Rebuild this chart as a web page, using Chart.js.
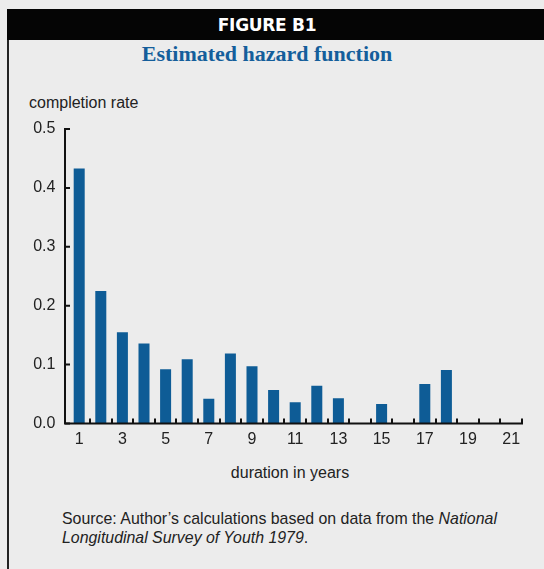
<!DOCTYPE html>
<html>
<head>
<meta charset="utf-8">
<script src="https://cdn.jsdelivr.net/npm/chart.js@4/dist/chart.umd.min.js"></script>
<style>
  html, body { margin: 0; padding: 0; background: #ececec; }
  body { width: 544px; height: 569px; position: relative; overflow: hidden; font-family: "Liberation Sans", Arial, sans-serif; color: #222; }
  #frame { position: absolute; left: 7px; top: 9px; width: 540px; height: 570px; border-left: 2px solid #222; }
  #band { position: absolute; left: 7px; top: 9px; width: 540px; height: 31px; background: #050505; color: #fff;
          font-family: "DejaVu Sans", sans-serif; font-weight: bold; font-size: 17px; line-height: 31px; letter-spacing: -0.3px; }
  #band span { position: absolute; left: 0; width: 520px; text-align: center; top: 1px; }
  #title { position: absolute; left: 7px; width: 520px; top: 41px; text-align: center;
           font-family: "Liberation Serif", "Times New Roman", serif; font-weight: bold; font-size: 22px; color: #145e9b; }
  #ylab { position: absolute; left: 29px; top: 94px; font-size: 16px; line-height: 18px; }
  #xlab { position: absolute; left: 190px; width: 200px; top: 464px; text-align: center; font-size: 16px; line-height: 18px; }
  #source { position: absolute; left: 62px; top: 510px; font-size: 15.9px; line-height: 18.7px; }
  canvas { position: absolute; left: 0; top: 0; }
</style>
</head>
<body>
<div id="frame"></div>
<div id="band"><span>FIGURE B1</span></div>
<div id="title">Estimated hazard function</div>
<div id="ylab">completion rate</div>
<div id="xlab">duration in years</div>
<div id="source">Source: Author’s calculations based on data from the <i>National</i><br><i>Longitudinal Survey of Youth 1979</i>.</div>
<canvas id="hazardChart" width="544" height="569"></canvas>
<script>
// 数据：持续年数与完成率
const durations = ['1', '2', '3', '4', '5', '6', '7', '8', '9', '10', '11',
                   '12', '13', '14', '15', '16', '17', '18', '19', '20', '21'];
const completionRate = [0.433, 0.225, 0.155, 0.136, 0.092, 0.109, 0.042, 0.119, 0.097, 0.057, 0.036,
                        0.064, 0.043, 0, 0.033, 0, 0.067, 0.091, 0, 0, 0];
const yTicks = [0, 0.1, 0.2, 0.3, 0.4, 0.5];

const BAR_COLOR = '#0e5c96';
const AXIS_GAP = 3.4;

// 向内的刻度线 + 坐标轴
const inwardAxes = {
    id: 'inwardAxes',
    afterDraw(chart) {
        const { ctx, chartArea, scales: { x, y } } = chart;
        const x0 = chartArea.left - AXIS_GAP;
        const y0 = y.getPixelForValue(0);
        ctx.save();
        ctx.strokeStyle = '#111';
        ctx.lineWidth = 2;
        ctx.beginPath();
        ctx.moveTo(x0, y.getPixelForValue(0.5) - 1);
        ctx.lineTo(x0, y0);
        ctx.lineTo(chartArea.right + 1, y0);
        ctx.stroke();

        ctx.lineWidth = 2;
        ctx.beginPath();
        yTicks.forEach(v => {
            const py = y.getPixelForValue(v);
            ctx.moveTo(x0, py);
            ctx.lineTo(x0 + 5, py);
        });
        const step = x.getPixelForValue(1) - x.getPixelForValue(0);
        for (let i = 0; i < durations.length; i++) {
            const px = Math.round(x.getPixelForValue(i) + step / 2);
            ctx.moveTo(px, y0);
            ctx.lineTo(px, y0 - 5);
        }
        ctx.stroke();
        ctx.restore();
    }
};

const chart = new Chart(document.getElementById('hazardChart'), {
    type: 'bar',
    data: {
        labels: durations,
        datasets: [{
            data: completionRate,
            backgroundColor: BAR_COLOR,
            borderWidth: 0,
            barPercentage: 0.51,
            categoryPercentage: 1
        }]
    },
    options: {
        responsive: false,
        animation: false,
        layout: {
            padding: { left: 0, right: 22, top: 129, bottom: 115.5 }
        },
        plugins: {
            legend: { display: false },
            tooltip: { enabled: false }
        },
        scales: {
            x: {
                offset: true,
                grid: { display: false, drawTicks: false },
                border: { display: false },
                afterFit: function(scale) { scale.height = 30; },
                ticks: {
                    autoSkip: false,
                    maxRotation: 0,
                    padding: 6,
                    color: '#222',
                    font: { family: '"Liberation Sans", Arial, sans-serif', size: 16 },
                    callback: function(value, index) {
                        return index % 2 === 0 ? durations[index] : '';
                    }
                }
            },
            y: {
                min: 0,
                max: 0.5,
                grid: { display: false, drawTicks: false },
                border: { display: false },
                afterFit: function(scale) { scale.width = 68.4; },
                afterBuildTicks: function(scale) {
                    scale.ticks = yTicks.map(v => ({ value: v }));
                },
                ticks: {
                    padding: 13,
                    color: '#222',
                    font: { family: '"Liberation Sans", Arial, sans-serif', size: 16 },
                    callback: function(value) {
                        return value.toFixed(1);
                    }
                }
            }
        }
    },
    plugins: [inwardAxes]
});
</script>
</body>
</html>
